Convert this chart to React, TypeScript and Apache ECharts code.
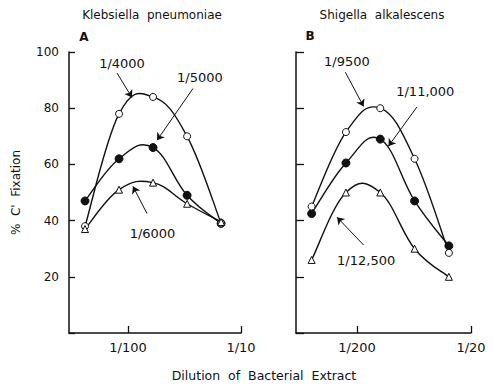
import React, { useEffect, useRef } from "react";
import * as echarts from "echarts";

// Dilution denominators of bacterial extract (x positions, log scale)
const leftDilutions = [240, 120, 60, 30, 15];
const rightDilutions = [500, 250, 125, 62.5, 31.25];

// Klebsiella pneumoniae (% C' fixation)
const k4000 = [38, 78, 84, 70, 39];
const k5000 = [47, 62, 66, 49, 39];
const k6000 = [37, 51, 53.5, 46, 39.5];

// Shigella alkalescens (% C' fixation)
const s9500 = [45, 71.5, 80, 62, 28.5];
const s11000 = [42.5, 60.5, 69, 47, 31];
const s12500 = [26, 50, 50, 30, 20];

const yTicks = [0, 20, 40, 60, 80, 100];
const leftXTicks = [100, 10];
const rightXTicks = [200, 20];

const toX = (d: number) => -Math.log10(d);
const FONT = "DejaVu Sans";
const INK = "#111";

function pts(dil: number[], vals: number[]) {
  return dil.map((d, i) => [toX(d), vals[i]]);
}

const openCircle = { symbol: "circle", symbolSize: 7, itemStyle: { color: "#fff", borderColor: INK, borderWidth: 1, opacity: 1 } };
const filledCircle = { symbol: "circle", symbolSize: 8, itemStyle: { color: INK, borderColor: INK, borderWidth: 1, opacity: 1 } };
const openTri = { symbol: "triangle", symbolSize: 7, itemStyle: { color: "#fff", borderColor: INK, borderWidth: 1, opacity: 1 } };

function annot(label: string, lp: number[], a: number[], b: number[]) {
  return {
    markLine: {
      silent: true,
      symbol: ["none", "arrow"],
      symbolSize: 7,
      lineStyle: { color: INK, width: 1, type: "solid", opacity: 1 },
      itemStyle: { color: INK, opacity: 1 },
      label: { show: false },
      emphasis: { disabled: true },
      data: [[{ coord: a }, { coord: b }]],
    },
    markPoint: {
      silent: true,
      symbol: "circle",
      symbolSize: 1,
      itemStyle: { color: "transparent" },
      label: {
        show: true,
        position: "inside",
        formatter: label,
        color: INK,
        fontSize: 13,
        fontFamily: FONT,
      },
      data: [{ coord: lp, value: 0 }],
    },
  };
}

// smooth hand-drawn-like curve through the points (Catmull-Rom), drawn via the axes' scales
function curveSeries(idx: number, data: number[][]) {
  const k = 0.2;
  return {
    type: "custom",
    xAxisIndex: idx,
    yAxisIndex: idx,
    data,
    silent: true,
    z: 2,
    renderItem: (params: any, api: any) => {
      if (params.dataIndex !== 0) return null;
      const p = data.map((d) => api.coord(d));
      let d = `M${p[0][0]},${p[0][1]}`;
      for (let i = 0; i < p.length - 1; i++) {
        const p0 = p[i - 1] || p[i];
        const p1 = p[i];
        const p2 = p[i + 1];
        const p3 = p[i + 2] || p[i + 1];
        const c1x = p1[0] + (p2[0] - p0[0]) * k;
        const c1y = p1[1] + (p2[1] - p0[1]) * k;
        const c2x = p2[0] - (p3[0] - p1[0]) * k;
        const c2y = p2[1] - (p3[1] - p1[1]) * k;
        d += ` C${c1x},${c1y} ${c2x},${c2y} ${p2[0]},${p2[1]}`;
      }
      return {
        type: "path",
        shape: { pathData: d },
        style: { stroke: INK, lineWidth: 1.4, fill: "none" },
      };
    },
  };
}

function markerSeries(name: string, idx: number, data: number[][], sym: any, ann: any) {
  return {
    name,
    type: "scatter",
    xAxisIndex: idx,
    yAxisIndex: idx,
    data,
    ...sym,
    emphasis: { disabled: true },
    z: sym === filledCircle ? 3 : 4,
    ...ann,
  };
}

export default function App() {
  const ref = useRef<HTMLDivElement>(null);
  useEffect(() => {
    if (!ref.current) return;
    const chart = echarts.init(ref.current, null, { renderer: "svg" });
    const xAxisBase = (min: number, max: number, ticks: number[]) => ({
      type: "value",
      min,
      max,
      axisLine: { show: true, onZero: false, lineStyle: { color: INK, width: 1.5 } },
      axisTick: { show: true, inside: true, length: 7, lineStyle: { color: INK, width: 1.3 }, customValues: ticks.map(toX) },
      axisLabel: {
        customValues: ticks.map(toX),
        formatter: (v: number) => "1/" + Math.round(Math.pow(10, -v)),
        fontSize: 13,
        fontFamily: FONT,
        color: INK,
        margin: 8,
      },
      splitLine: { show: false },
    });
    const yAxisBase = (idx: number, showLabel: boolean) => ({
      type: "value",
      gridIndex: idx,
      min: yTicks[0],
      max: yTicks[yTicks.length - 1],
      interval: 20,
      axisLine: { show: true, onZero: false, lineStyle: { color: INK, width: 1.5 } },
      axisTick: { show: true, inside: true, length: showLabel ? 6 : 8, lineStyle: { color: INK, width: 1.3 } },
      axisLabel: {
        show: showLabel,
        formatter: (v: number) => (v === 0 ? "" : String(v)),
        fontSize: 12,
        fontFamily: FONT,
        color: INK,
        margin: 10,
      },
      splitLine: { show: false },
      name: showLabel ? "%  C'  Fixation" : "",
      nameLocation: "middle",
      nameGap: 47,
      nameTextStyle: { fontSize: 12, fontFamily: FONT, color: INK },
    });

    chart.setOption({
      animation: false,
      backgroundColor: "#fff",
      grid: [
        { left: 69, top: 52, width: 172, height: 281 },
        { left: 296, top: 52, width: 175, height: 281 },
      ],
      xAxis: [
        { gridIndex: 0, ...xAxisBase(-2.522, -1, leftXTicks) },
        { gridIndex: 1, ...xAxisBase(-2.836, -1.301, rightXTicks) },
      ],
      yAxis: [yAxisBase(0, true), yAxisBase(1, false)],
      series: [
        curveSeries(0, pts(leftDilutions, k4000)),
        curveSeries(0, pts(leftDilutions, k5000)),
        curveSeries(0, pts(leftDilutions, k6000)),
        curveSeries(1, pts(rightDilutions, s9500)),
        curveSeries(1, pts(rightDilutions, s11000)),
        curveSeries(1, pts(rightDilutions, s12500)),
        markerSeries("1/4000", 0, pts(leftDilutions, k4000), openCircle,
          annot("1/4000", [-2.053, 96], [-2.097, 92.5], [-1.965, 83.8])),
        markerSeries("1/5000", 0, pts(leftDilutions, k5000), filledCircle,
          annot("1/5000", [-1.363, 91], [-1.425, 87], [-1.743, 68.6])),
        markerSeries("1/6000", 0, pts(leftDilutions, k6000), openTri,
          annot("1/6000", [-1.783, 35.5], [-1.832, 42.5], [-1.956, 52.2])),
        markerSeries("1/9500", 1, pts(rightDilutions, s9500), openCircle,
          annot("1/9500", [-2.389, 96.5], [-2.403, 92.8], [-2.243, 80.6])),
        markerSeries("1/11,000", 1, pts(rightDilutions, s11000), filledCircle,
          annot("1/11,000", [-1.702, 85.8], [-1.776, 80.4], [-2.025, 66.5])),
        markerSeries("1/12,500", 1, pts(rightDilutions, s12500), openTri,
          annot("1/12,500", [-2.221, 25.9], [-2.243, 31.3], [-2.476, 41.2])),
      ],
      graphic: [
        { type: "text", x: 152, y: 15, style: { text: "Klebsiella  pneumoniae", font: `12px "${FONT}"`, fill: INK, textAlign: "center", textVerticalAlign: "middle" } },
        { type: "text", x: 84, y: 37, style: { text: "A", font: `bold 12px "${FONT}"`, fill: INK, textAlign: "center", textVerticalAlign: "middle" } },
        { type: "text", x: 382, y: 15, style: { text: "Shigella  alkalescens", font: `12px "${FONT}"`, fill: INK, textAlign: "center", textVerticalAlign: "middle" } },
        { type: "text", x: 310, y: 36, style: { text: "B", font: `bold 12px "${FONT}"`, fill: INK, textAlign: "center", textVerticalAlign: "middle" } },
        { type: "text", x: 264, y: 375, style: { text: "Dilution  of  Bacterial  Extract", font: `12.5px "${FONT}"`, fill: INK, textAlign: "center", textVerticalAlign: "middle" } },
      ],
    });
    return () => chart.dispose();
  }, []);
  return <div ref={ref} style={{ width: 493, height: 384, position: "absolute", left: 0, top: 0 }} />;
}
